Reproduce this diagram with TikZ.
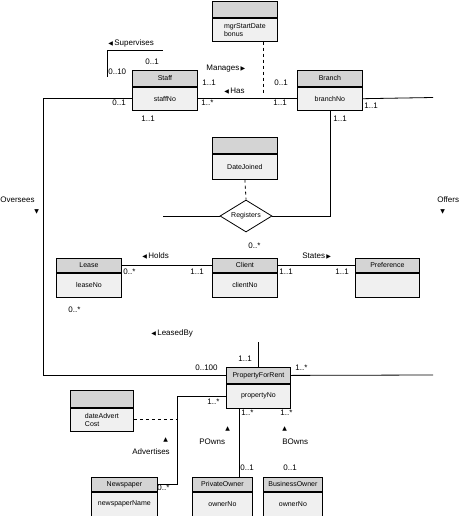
\documentclass[tikz,border=0pt]{standalone}
\usepackage{fontspec}
\setmainfont{Liberation Sans}
\newfontfamily\symf{DejaVu Sans}
\usepackage{xcolor}
\usepackage{tikz}
\usetikzlibrary{positioning,shapes.geometric}
\definecolor{HdrGray}{HTML}{D4D4D4}
\definecolor{BodyGray}{HTML}{F0F0F0}
\newcommand{\tri}[1]{{\symf\fontsize{6}{6}\selectfont #1}}

\begin{document}
\begin{tikzpicture}[x=1pt,y=-1pt,line width=.8pt,
  hdr/.style={draw,fill=HdrGray,inner sep=0pt,anchor=north west,font=\fontsize{7}{8}\selectfont},
  bdy/.style={draw,fill=BodyGray,inner sep=0pt,anchor=north,align=left,font=\fontsize{7}{8}\selectfont},
  lbl/.style={inner sep=0pt,anchor=west,font=\fontsize{8}{9}\selectfont}]
\useasboundingbox (0,0) rectangle (464,516);
% class boxes
\node[hdr,minimum width=65pt,minimum height=16pt] (man) at (212,1) {};
\node[bdy,minimum width=65pt,minimum height=23pt] (manB) at (man.south) {mgrStartDate\\bonus};
\node[hdr,minimum width=65pt,minimum height=16pt] (staff) at (132,70) {Staff};
\node[bdy,minimum width=65pt,minimum height=23pt] (staffB) at (staff.south) {staffNo};
\node[hdr,minimum width=65pt,minimum height=16pt] (branch) at (297,70) {Branch};
\node[bdy,minimum width=65pt,minimum height=23pt] (branchB) at (branch.south) {branchNo};
\node[hdr,minimum width=65pt,minimum height=16pt] (dj) at (212,137) {};
\node[bdy,minimum width=65pt,minimum height=25pt] (djB) at (dj.south) {DateJoined};
\node[diamond,draw,fill=white,aspect=1.5,inner sep=0pt,minimum width=52pt,minimum height=32pt,
  font=\fontsize{7}{8}\selectfont] (reg) at (246,216) {Registers};
\node[hdr,minimum width=65pt,minimum height=14pt] (lease) at (56,258) {Lease};
\node[bdy,minimum width=65pt,minimum height=24pt] (leaseB) at (lease.south) {leaseNo};
\node[hdr,minimum width=65pt,minimum height=14pt] (client) at (212,258) {Client};
\node[bdy,minimum width=65pt,minimum height=24pt] (clientB) at (client.south) {clientNo};
\node[hdr,minimum width=64pt,minimum height=14pt] (pref) at (355,258) {Preference};
\node[bdy,minimum width=64pt,minimum height=24pt] (prefB) at (pref.south) {};
\node[hdr,minimum width=64pt,minimum height=16pt] (prop) at (226,367) {PropertyForRent};
\node[bdy,minimum width=64pt,minimum height=24pt] (propB) at (prop.south) {propertyNo};
\node[hdr,minimum width=63pt,minimum height=17pt] (adv) at (70,390) {};
\node[bdy,minimum width=63pt,minimum height=23pt] (advB) at (adv.south) {dateAdvert\\Cost};
\node[hdr,minimum width=66pt,minimum height=14pt] (news) at (91,477) {Newspaper};
\node[bdy,minimum width=66pt,minimum height=24pt] (newsB) at (news.south) {newspaperName};
\node[hdr,minimum width=60pt,minimum height=14pt] (pown) at (192,477) {PrivateOwner};
\node[bdy,minimum width=60pt,minimum height=24pt] (pownB) at (pown.south) {ownerNo};
\node[hdr,minimum width=59pt,minimum height=14pt] (bown) at (263,477) {BusinessOwner};
\node[bdy,minimum width=59pt,minimum height=24pt] (bownB) at (bown.south) {ownerNo};
% free ends
\coordinate (supA) at (107,77);
\coordinate (supB) at (163,50);
\coordinate (offA) at (433,97.5);
\coordinate (offB) at (433,375);
\coordinate (regL) at (163,216);
% connectors
\draw (supA) |- (supB);
\draw[dashed] ([xshift=-14pt]manB.south east) -- ++(0,53);
\draw (staffB.east) -- (branchB.west);
\draw (staffB.west) -- ++(-89,0) |- (prop.west);
\draw (branchB.east) -- (offA);
\draw (prop.east) -- (offB);
\draw (branchB.south) |- (reg.east);
\draw (reg.west) -- (regL);
\draw[dashed] (djB.south) -- (reg.north);
\draw (lease.east) -- (client.west);
\draw (client.east) -- (pref.west);
\draw (prop.north) -- ++(0,-25);
\draw (propB.west) -- ++(-49,0) |- (news.east);
\draw[dashed] (advB.east) -- ++(44,0);
\draw ([xshift=13pt]propB.south west) -- ([xshift=47pt]pown.north west);
% labels
\node[lbl] (lSup) at (108,43) {\tri{◀}\,Supervises};
\node[lbl] (mSup1) at (145,62) {0..1};
\node[lbl] (mSup2) at (108,72) {0..10};
\node[lbl] (lMan) at (206,69) {Manages\,\tri{▶}};
\node[lbl] (mHas1) at (202,83) {1..1};
\node[lbl] (lHas) at (224,91) {\tri{◀}\,Has};
\node[lbl] (mHas2) at (274,83) {0..1};
\node[lbl] (mOv1) at (112,103) {0..1};
\node[lbl] (mHas3) at (201,103) {1..*};
\node[lbl] (mHas4) at (273,103) {1..1};
\node[lbl] (mOff1) at (364,106) {1..1};
\node[lbl] (mOv2) at (141,119) {1..1};
\node[lbl] (mReg1) at (333,119) {1..1};
\node[lbl] (lOv) at (0,200) {Oversees};
\node[lbl] (aOv) at (34,212) {\tri{▼}};
\node[lbl] (lOff) at (437,200) {Offers};
\node[lbl] (aOff) at (440,212) {\tri{▼}};
\node[lbl] (mReg2) at (248,246) {0..*};
\node[lbl] (lHold) at (142,256) {\tri{◀}\,Holds};
\node[lbl] (mHold1) at (123,272) {0..*};
\node[lbl] (mHold2) at (190,272) {1..1};
\node[lbl] (mSt1) at (279,272) {1..1};
\node[lbl] (lSt) at (302,256) {States\,\tri{▶}};
\node[lbl] (mSt2) at (335,272) {1..1};
\node[lbl] (mLb1) at (68,310) {0..*};
\node[lbl] (lLb) at (151,333) {\tri{◀}\,LeasedBy};
\node[lbl] (mLb2) at (238,359) {1..1};
\node[lbl] (mOv3) at (195,368) {0..100};
\node[lbl] (mOff2) at (295,368) {1..*};
\node[lbl] (mAdv1) at (207,402) {1..*};
\node[lbl] (mPo1) at (241,413) {1..*};
\node[lbl] (mBo1) at (280,413) {1..*};
\node[lbl] (aAdv) at (163,440) {\tri{▲}};
\node[lbl] (lAdv) at (132,452) {Advertises};
\node[lbl] (aPo) at (225,429) {\tri{▲}};
\node[lbl] (lPo) at (199,442) {POwns};
\node[lbl] (aBo) at (282,429) {\tri{▲}};
\node[lbl] (lBo) at (282,442) {BOwns};
\node[lbl] (mPo2) at (240,468) {0..1};
\node[lbl] (mBo2) at (283,468) {0..1};
\node[lbl] (mAdv2) at (157,488) {0..*};
\end{tikzpicture}
\end{document}
